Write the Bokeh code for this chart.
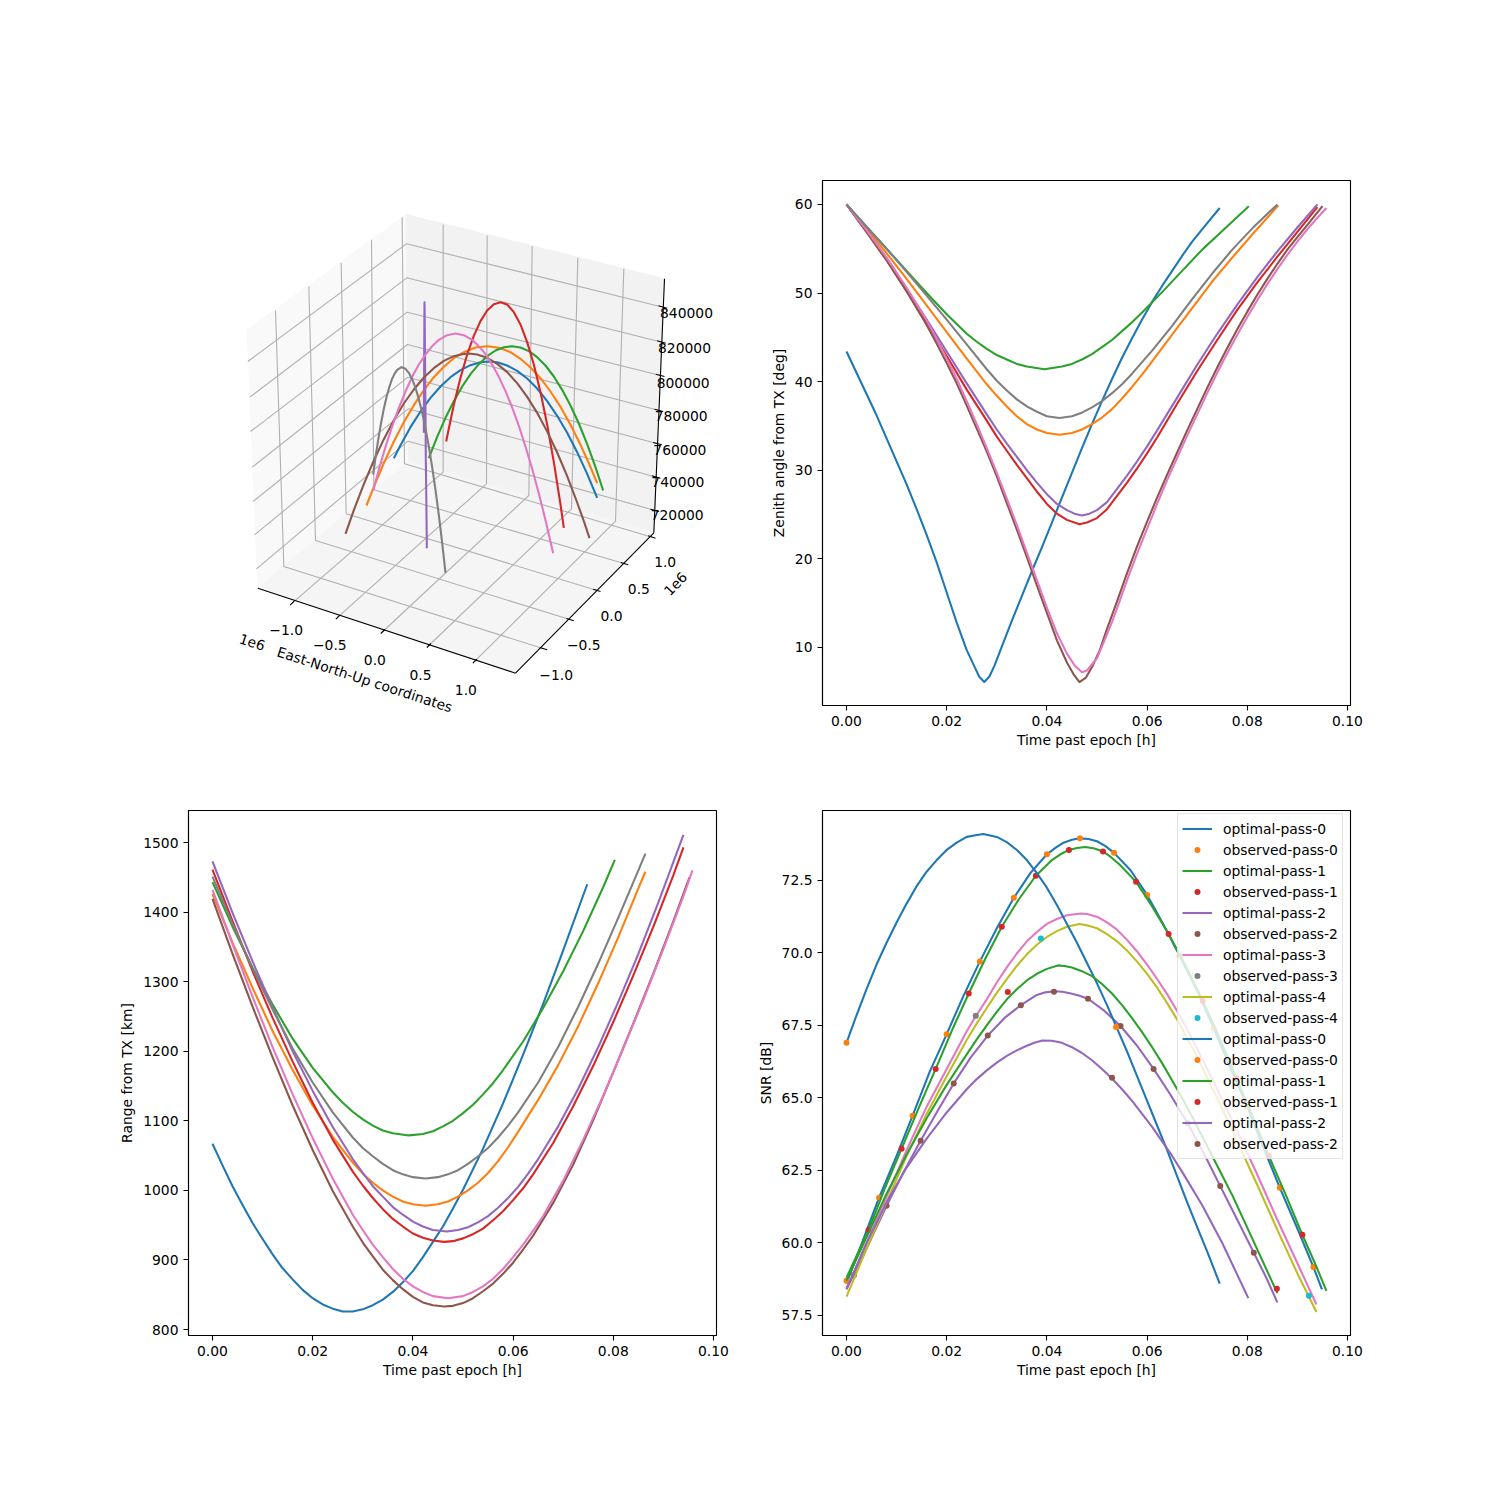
from bokeh.plotting import figure
from bokeh.layouts import column, row
from bokeh.models import Range1d, FixedTicker, NumeralTickFormatter, Legend, LegendItem, Label
from bokeh.embed import file_html
from bokeh.resources import INLINE

BLUE, ORANGE, GREEN, RED, PURPLE, BROWN, PINK, GRAY, OLIVE, CYAN = (
    "#1f77b4", "#ff7f0e", "#2ca02c", "#d62728", "#9467bd",
    "#8c564b", "#e377c2", "#7f7f7f", "#bcbd22", "#17becf")
FONT = "DejaVu Sans"
FS = "13.89px"

# ---- Zenith angle [deg] vs time [h]
zen_blue = [(0,43.4),(.002,41),(.004,38.6),(.006,36.2),(.008,33.6),(.01,31),(.012,28.4),(.014,25.6),(.016,22.7),(.018,19.6),(.02,16.2),(.022,12.8),(.024,9.7),(.0255,7.9),(.0265,6.7),(.0275,6.1),(.0285,6.7),(.0295,7.9),(.031,10.1),(.033,13),(.035,15.8),(.037,18.6),(.039,21.3),(.041,24.1),(.043,26.9),(.045,29.7),(.047,32.5),(.049,35.2),(.051,37.8),(.053,40.3),(.055,42.7),(.057,44.9),(.059,47),(.061,49),(.063,50.8),(.065,52.5),(.067,54.2),(.069,55.8),(.072,57.9),(.0745,59.6)]
zen_orange = [(0,60),(.004,57.3),(.008,54.5),(.012,51.6),(.016,48.6),(.02,45.6),(.024,42.6),(.028,39.7),(.03,38.4),(.032,37.2),(.034,36.1),(.036,35.2),(.038,34.6),(.04,34.2),(.0425,34),(.045,34.2),(.047,34.6),(.049,35.2),(.051,35.95),(.053,36.9),(.055,38.1),(.057,39.4),(.059,40.8),(.061,42.3),(.065,45.3),(.069,48.3),(.073,51.3),(.077,54),(.081,56.6),(.0862,59.9)]
zen_green = [(0,60),(.004,57.5),(.008,55),(.012,52.5),(.016,50),(.02,47.6),(.024,45.4),(.026,44.5),(.028,43.7),(.03,43),(.032,42.5),(.034,42),(.036,41.7),(.0395,41.4),(.043,41.7),(.045,42),(.047,42.5),(.049,43.1),(.051,43.9),(.053,44.7),(.055,45.7),(.057,46.7),(.059,47.8),(.063,50.1),(.067,52.5),(.071,54.9),(.075,57),(.0803,59.8)]
zen_red = [(0,60),(.004,56.9),(.008,53.7),(.012,50.2),(.016,46.6),(.02,42.9),(.024,39.1),(.028,35.6),(.03,33.8),(.032,32.2),(.034,30.6),(.036,29.1),(.038,27.6),(.04,26.2),(.042,25.1),(.044,24.4),(.0465,23.9),(.048,24.1),(.05,24.6),(.052,25.6),(.054,27.1),(.056,28.6),(.058,30.2),(.06,31.9),(.062,33.7),(.066,37.5),(.07,41.2),(.074,44.7),(.078,48.1),(.082,51.2),(.086,54.1),(.09,56.9),(.094,59.7)]
zen_purple = [(0,60),(.004,57),(.008,53.9),(.012,50.5),(.016,47),(.02,43.4),(.024,39.8),(.028,36.3),(.03,34.6),(.032,33),(.034,31.5),(.036,30),(.038,28.6),(.04,27.3),(.042,26.2),(.044,25.5),(.0455,25.1),(.047,24.9),(.0485,25.1),(.05,25.5),(.052,26.4),(.054,27.9),(.056,29.4),(.058,31),(.06,32.7),(.062,34.5),(.066,38.2),(.07,41.9),(.074,45.4),(.078,48.7),(.082,51.8),(.086,54.7),(.09,57.4),(.094,60)]
zen_brown = [(0,60),(.004,56.9),(.008,53.7),(.012,50.2),(.016,46.4),(.018,44.3),(.02,42.1),(.022,39.8),(.024,37.3),(.026,34.7),(.028,32.1),(.03,29.3),(.032,26.3),(.034,23.3),(.036,20.2),(.038,17),(.04,13.9),(.042,10.8),(.044,8.3),(.0453,7),(.0465,6.1),(.0478,6.6),(.049,7.8),(.0505,9.6),(.052,12.1),(.054,15.2),(.056,18.4),(.058,21.4),(.06,24.2),(.062,26.9),(.064,29.5),(.066,32),(.068,34.5),(.07,36.9),(.072,39.3),(.074,41.6),(.076,43.8),(.078,45.9),(.08,47.9),(.082,49.8),(.084,51.6),(.086,53.3),(.088,54.9),(.09,56.3),(.092,57.7),(.095,59.8)]
zen_pink = [(0,60),(.004,57.1),(.008,54),(.012,50.6),(.016,46.9),(.018,44.8),(.02,42.6),(.022,40.3),(.024,37.8),(.026,35.2),(.028,32.5),(.03,29.7),(.032,26.8),(.034,23.8),(.036,20.7),(.038,17.6),(.04,14.5),(.042,11.6),(.044,9.3),(.0455,8),(.047,7.2),(.048,7.4),(.05,8.8),(.0515,10.8),(.053,12.9),(.054,14.4),(.056,17.6),(.058,20.6),(.06,23.4),(.062,26.2),(.064,28.9),(.066,31.4),(.068,33.9),(.07,36.3),(.072,38.7),(.074,41),(.076,43.2),(.078,45.3),(.08,47.3),(.082,49.2),(.084,51),(.086,52.7),(.088,54.3),(.09,55.8),(.092,57.2),(.094,58.5),(.0958,59.6)]
zen_gray = [(0,60),(.004,57.5),(.008,55),(.012,52.4),(.016,49.7),(.02,47),(.024,44.2),(.028,41.4),(.03,40.1),(.032,39),(.034,38),(.036,37.2),(.038,36.6),(.04,36.1),(.0425,35.9),(.045,36.1),(.047,36.5),(.049,37.1),(.051,37.8),(.053,38.7),(.055,39.7),(.057,40.9),(.059,42.2),(.061,43.5),(.065,46.3),(.069,49.3),(.073,52.2),(.077,54.9),(.081,57.3),(.086,60)]

# ---- Range [km] vs time [h]
rng_blue = [(0,1067),(.002,1036),(.004,1006),(.006,979),(.008,953),(.01,930),(.012,908),(.014,888),(.016,872),(.018,857),(.02,845),(.022,836),(.024,830),(.026,826),(.0272,826),(.028,826),(.03,829),(.032,835),(.034,843),(.036,854),(.038,868),(.04,884),(.042,904),(.044,926),(.046,948),(.048,974),(.05,1001),(.054,1060),(.058,1125),(.062,1195),(.066,1268),(.07,1345),(.0748,1440)]
rng_orange = [(0,1426),(.004,1356),(.008,1291),(.012,1229),(.016,1173),(.02,1122),(.024,1077),(.028,1040),(.03,1024),(.032,1011),(.034,1000),(.036,991),(.038,984),(.04,980),(.0425,978),(.045,980),(.047,984),(.049,991),(.051,1000),(.053,1011),(.055,1025),(.057,1042),(.059,1062),(.061,1084),(.065,1130),(.069,1180),(.073,1236),(.077,1298),(.081,1364),(.085,1434),(.0864,1458)]
rng_green = [(0,1443),(.004,1379),(.008,1320),(.012,1267),(.016,1218),(.02,1176),(.024,1141),(.026,1126),(.028,1113),(.03,1102),(.032,1093),(.034,1086),(.036,1082),(.0392,1079),(.042,1081),(.044,1085),(.046,1092),(.048,1100),(.05,1111),(.052,1123),(.054,1138),(.056,1154),(.058,1173),(.062,1214),(.066,1262),(.07,1315),(.074,1373),(.078,1436),(.0803,1475)]
rng_red = [(0,1461),(.004,1387),(.008,1315),(.012,1248),(.016,1185),(.02,1126),(.024,1073),(.028,1027),(.03,1007),(.032,989),(.034,973),(.036,959),(.038,948),(.04,938),(.042,932),(.044,928),(.0462,926),(.048,927),(.05,931),(.052,937),(.054,945),(.056,957),(.058,970),(.06,986),(.062,1003),(.064,1023),(.068,1068),(.072,1121),(.076,1179),(.08,1242),(.084,1309),(.088,1379),(.092,1453),(.094,1493)]
rng_purple = [(0,1473),(.004,1399),(.008,1329),(.012,1263),(.016,1200),(.02,1143),(.024,1091),(.028,1045),(.03,1025),(.032,1006),(.034,991),(.036,976),(.038,965),(.04,955),(.042,948),(.044,943),(.0468,941),(.049,943),(.051,947),(.053,954),(.055,963),(.057,975),(.059,989),(.061,1005),(.063,1024),(.065,1045),(.069,1092),(.073,1146),(.077,1206),(.081,1271),(.085,1340),(.089,1414),(.094,1511)]
rng_brown = [(0,1419),(.004,1340),(.008,1264),(.012,1191),(.016,1122),(.02,1058),(.024,999),(.028,948),(.03,925),(.032,905),(.034,886),(.036,871),(.038,858),(.04,847),(.042,839),(.044,835),(.0462,833),(.048,834),(.05,838),(.052,845),(.054,855),(.056,866),(.058,880),(.06,896),(.062,915),(.064,935),(.068,982),(.072,1037),(.076,1101),(.08,1170),(.084,1240),(.088,1312),(.092,1387),(.0952,1450)]
rng_pink = [(0,1432),(.004,1354),(.008,1278),(.012,1206),(.016,1138),(.02,1075),(.024,1017),(.028,965),(.03,943),(.032,922),(.034,904),(.036,887),(.038,873),(.04,862),(.042,854),(.044,848),(.047,845),(.05,848),(.052,854),(.054,862),(.056,873),(.058,887),(.06,904),(.062,922),(.064,942),(.066,963),(.07,1014),(.074,1073),(.078,1136),(.082,1204),(.086,1274),(.09,1347),(.094,1423),(.0958,1460)]
rng_gray = [(0,1451),(.004,1383),(.008,1319),(.012,1260),(.016,1204),(.02,1155),(.024,1112),(.028,1076),(.03,1061),(.032,1049),(.034,1038),(.036,1029),(.038,1023),(.04,1019),(.0425,1017),(.045,1019),(.047,1023),(.049,1029),(.051,1038),(.053,1049),(.055,1061),(.057,1076),(.059,1093),(.061,1112),(.065,1155),(.069,1206),(.073,1264),(.077,1326),(.081,1392),(.085,1460),(.0864,1484)]

# ---- SNR [dB] vs time [h]
snr_pass0a = [(0,58.6),(.0033,60.1),(.0065,61.56),(.01,63),(.0132,64.39),(.0166,65.9),(.02,67.2),(.0233,68.5),(.0266,69.7),(.03,70.85),(.0334,71.9),(.0367,72.75),(.04,73.4),(.0417,73.62),(.0433,73.8),(.045,73.9),(.0466,73.95),(.0483,73.93),(.05,73.85),(.0517,73.68),(.0534,73.45),(.0567,72.85),(.06,72),(.0632,71),(.0665,69.9),(.07,68.7),(.0733,67.4),(.0766,66.05),(.08,64.7),(.0832,63.3),(.0865,61.9),(.09,60.5),(.0932,59.17),(.0949,58.4)]
obs_pass0a = [(0,58.7),(.0065,61.56),(.0132,64.39),(.02,67.2),(.0266,69.7),(.0334,71.9),(.04,73.4),(.0466,73.95),(.0534,73.45),(.06,72),(.0665,69.9),(.0733,67.4),(.08,64.7),(.0865,61.9),(.0932,59.17)]
snr_pass1a = [(0,58.8),(.0044,60.45),(.0077,61.9),(.011,63.25),(.0144,64.65),(.0178,66),(.0211,67.35),(.0244,68.6),(.0277,69.8),(.031,70.9),(.0344,71.85),(.0378,72.66),(.041,73.2),(.0427,73.4),(.0444,73.55),(.046,73.62),(.0477,73.65),(.0495,73.6),(.0512,73.5),(.0528,73.3),(.0545,73.05),(.0578,72.45),(.061,71.6),(.0643,70.65),(.0677,69.55),(.0711,68.35),(.0745,67.05),(.0778,65.7),(.081,64.4),(.0843,63),(.0877,61.65),(.091,60.28),(.0935,59.3),(.0958,58.35)]
obs_pass1a = [(.0044,60.45),(.011,63.25),(.0178,66),(.0244,68.6),(.031,70.9),(.0378,72.66),(.0444,73.55),(.0512,73.5),(.0578,72.45),(.0643,70.65),(.0711,68.35),(.0778,65.7),(.0843,63),(.091,60.28)]
snr_pass2a = [(0,58.45),(.0015,58.9),(.0048,60.1),(.008,61.28),(.0114,62.45),(.0148,63.52),(.018,64.5),(.0214,65.5),(.0248,66.4),(.0282,67.15),(.0315,67.75),(.0348,68.2),(.038,68.55),(.0397,68.64),(.0414,68.68),(.0431,68.66),(.0448,68.6),(.0465,68.52),(.0482,68.42),(.0515,68),(.0547,67.48),(.058,66.8),(.0613,66),(.0647,65.1),(.0681,64.13),(.0713,63.1),(.0746,61.96),(.078,60.8),(.0813,59.66),(.0838,58.8),(.086,57.95)]
obs_pass2a = [(.0015,58.9),(.008,61.28),(.0148,63.52),(.0214,65.5),(.0282,67.15),(.0348,68.2),(.0414,68.66),(.0482,68.42),(.0547,67.48),(.0613,66),(.0681,64.13),(.0746,61.96),(.0813,59.66)]
snr_pass3 = [(0,58.4),(.004,60),(.008,61.6),(.012,63.2),(.016,64.7),(.02,66),(.024,67.3),(.026,67.87),(.028,68.4),(.03,68.98),(.032,69.5),(.034,69.98),(.036,70.4),(.038,70.72),(.04,71),(.042,71.17),(.044,71.3),(.0468,71.36),(.048,71.34),(.05,71.25),(.052,71.05),(.054,70.8),(.056,70.45),(.058,70.05),(.06,69.6),(.062,69.1),(.064,68.58),(.066,68),(.068,67.37),(.07,66.7),(.074,65.3),(.078,63.85),(.082,62.35),(.086,60.8),(.09,59.3),(.0938,57.88)]
obs_pass3 = [(.0258,67.83)]
snr_pass4 = [(0,58.15),(.004,59.8),(.008,61.4),(.012,63),(.016,64.45),(.02,65.75),(.024,67),(.026,67.57),(.028,68.1),(.03,68.62),(.032,69.1),(.034,69.55),(.036,69.95),(.038,70.28),(.04,70.55),(.042,70.75),(.044,70.9),(.0465,71),(.048,70.95),(.05,70.85),(.052,70.65),(.054,70.4),(.056,70.08),(.058,69.7),(.06,69.28),(.062,68.8),(.064,68.27),(.066,67.7),(.068,67.07),(.07,66.4),(.074,65),(.078,63.5),(.082,62),(.086,60.45),(.09,58.95),(.0938,57.62)]
obs_pass4 = [(.0388,70.5),(.0923,58.18)]
snr_pass0b = [(0,66.9),(.002,67.85),(.004,68.75),(.006,69.6),(.008,70.35),(.01,71.05),(.012,71.7),(.014,72.3),(.016,72.8),(.018,73.2),(.02,73.55),(.022,73.8),(.024,74),(.0255,74.05),(.0273,74.1),(.03,74),(.032,73.82),(.034,73.55),(.036,73.2),(.038,72.75),(.04,72.25),(.042,71.65),(.044,71),(.046,70.35),(.048,69.65),(.05,68.95),(.052,68.2),(.054,67.4),(.056,66.6),(.058,65.75),(.06,64.9),(.062,64.05),(.064,63.2),(.066,62.3),(.068,61.4),(.07,60.55),(.072,59.7),(.0745,58.6)]
obs_pass0b = [(0,66.9),(.0538,67.45)]
snr_pass1b = [(0,58.7),(.004,60.2),(.008,61.7),(.012,63.05),(.016,64.3),(.02,65.45),(.024,66.5),(.026,67.02),(.028,67.5),(.03,67.97),(.032,68.4),(.034,68.75),(.036,69.05),(.038,69.28),(.04,69.45),(.0422,69.57),(.0435,69.55),(.045,69.5),(.047,69.37),(.049,69.2),(.051,68.93),(.053,68.6),(.055,68.2),(.057,67.75),(.059,67.27),(.061,66.75),(.063,66.2),(.065,65.6),(.067,65),(.069,64.35),(.073,63),(.077,61.65),(.081,60.15),(.086,58.27)]
obs_pass1b = [(.0322,68.65),(.0859,58.42)]
snr_pass2b = [(0,58.4),(.004,60),(.008,61.4),(.012,62.6),(.016,63.6),(.02,64.5),(.024,65.3),(.026,65.65),(.028,65.95),(.03,66.22),(.032,66.45),(.034,66.64),(.036,66.8),(.0375,66.9),(.0391,66.98),(.041,66.97),(.043,66.9),(.045,66.75),(.047,66.55),(.049,66.3),(.051,66),(.053,65.67),(.055,65.3),(.057,64.9),(.059,64.45),(.061,64),(.063,63.5),(.065,63),(.067,62.45),(.071,61.3),(.075,60),(.0802,58.1)]
obs_pass2b = [(.053,65.7)]
snr_labels = ["optimal-pass-0","observed-pass-0","optimal-pass-1","observed-pass-1","optimal-pass-2","observed-pass-2","optimal-pass-3","observed-pass-3","optimal-pass-4","observed-pass-4","optimal-pass-0","observed-pass-0","optimal-pass-1","observed-pass-1","optimal-pass-2","observed-pass-2"]

# ---- 3D panel: curves as projected on the page plane (panel units)
enu_blue = [(490,773),(510,734),(540,680),(570,633),(600,592),(630,558),(660,530),(690,509),(720,494),(750,485),(775,483),(800,485),(830,495),(860,511),(890,534),(920,564),(950,602),(980,646),(1010,697),(1040,755),(1070,820),(1100,892)]
enu_orange = [(408,915),(430,859),(460,788),(490,723),(520,665),(550,614),(580,569),(610,530),(640,499),(670,473),(700,455),(735,441),(770,437),(805,442),(840,455),(870,475),(900,501),(930,533),(960,573),(990,619),(1020,673),(1050,733),(1075,788),(1100,848)]
enu_green = [(595,773),(620,709),(645,652),(670,602),(695,558),(720,521),(745,491),(770,467),(795,450),(820,440),(845,437),(870,441),(895,452),(920,470),(945,495),(970,528),(995,568),(1020,615),(1045,669),(1070,731),(1095,800),(1118,870)]
enu_red = [(647,723),(650,708),(670,613),(690,532),(710,462),(730,406),(750,362),(770,330),(790,311),(810,305),(830,312),(850,335),(870,372),(890,425),(910,492),(930,575),(950,672),(970,785),(990,912),(1000,982)]
enu_purple = [(580,697),(580.5,600),(581,480),(581.5,380),(582,305),(582.5,340),(583.5,470),(585,640),(586,780),(587.5,900),(589,1043)]
enu_brown = [(345,1000),(370,929),(400,851),(430,780),(460,716),(490,659),(520,609),(550,567),(580,531),(610,503),(640,481),(670,467),(695,461),(715,459),(740,462),(770,472),(800,490),(830,515),(860,548),(890,589),(920,637),(950,693),(980,756),(1010,827),(1040,906),(1060,962),(1077,1013)]
enu_pink = [(428,870),(445,807),(465,739),(485,678),(505,622),(525,573),(545,529),(565,492),(585,462),(605,437),(625,418),(650,404),(675,399),(700,404),(725,418),(745,437),(765,461),(785,492),(805,529),(825,572),(845,621),(865,676),(885,738),(905,805),(925,879),(945,959),(968,1058)]
enu_gray = [(428,822),(436,764),(444,712),(452,666),(460,625),(468,590),(476,561),(484,537),(492,520),(500,508),(513,500),(525,505),(535,517),(545,536),(555,562),(565,596),(575,636),(585,684),(595,738),(605,800),(615,868),(625,944),(635,1027),(645,1117)]

pane_left = [(50,388),(527,42),(535,782),(82,1163)]
pane_right = [(527,42),(1302,235),(1270,997),(535,782)]
pane_floor = [(82,1163),(535,782),(1270,997),(855,1418)]
x_front = [(185,1208),(322,1250),(457,1293),(595,1335),(733,1382)]
x_back = [(638,815),(768,850),(895,885),(1023,925),(1155,962)]
x_top = [(638,72),(770,105),(905,137),(1042,172),(1180,205)]
y_front = [(940,1345),(1020,1258),(1100,1170),(1183,1090),(1265,1010)]
y_back = [(160,1098),(255,1020),(347,940),(430,868),(522,790)]
y_top = [(135,330),(235,257),(332,187),(423,118),(515,50)]
z_left = [(78,1105),(72,1003),(68,903),(65,800),(60,693),(58,590),(52,483)]
z_back = [(533,722),(533,625),(532,530),(531,432),(530,335),(529,232),(528,130)]
z_right = [(1274,930),(1278,830),(1282,730),(1286,630),(1290,525),(1294,425),(1298,320)]
z_labels = ["720000","740000","760000","780000","800000","820000","840000"]
z_label_pos = [(1340,942),(1342,845),(1348,748),(1352,645),(1358,547),(1362,442),(1368,337)]
x_labels = ["\u22121.0","\u22120.5","0.0","0.5","1.0"]
x_label_pos = [(167,1287),(298,1332),(433,1378),(570,1423),(706,1468)]
y_label_pos = [(977,1422),(1060,1332),(1143,1245),(1225,1165),(1304,1083)]

# ---------------- 3D panel
p3 = figure(width=750, height=760, output_backend="svg", toolbar_location=None,
            x_range=Range1d(-690, 1560), y_range=Range1d(1680, -600),
            min_border=0, outline_line_color=None)
p3.axis.visible = False
p3.grid.visible = False
for pane, col in ((pane_left, "#f9f9f9"), (pane_right, "#f2f2f2"), (pane_floor, "#f5f5f5")):
    p3.patch([a for a, _ in pane], [b for _, b in pane], fill_color=col, line_color=col, line_width=1)
GRID = "#b0b0b0"
def seg3(points, color=GRID, w=1.1):
    p3.line([a for a, _ in points], [b for _, b in points], line_color=color, line_width=w)
for a, b, c in zip(x_front, x_back, x_top):
    seg3([a, b, c])
for a, b, c in zip(y_front, y_back, y_top):
    seg3([a, b, c])
for a, b, c in zip(z_left, z_back, z_right):
    seg3([a, b, c])
seg3([pane_floor[0], pane_floor[3]], "black")
seg3([pane_floor[3], pane_floor[2]], "black")
seg3([pane_floor[2], pane_right[1]], "black")
for (a, b) in x_front:
    seg3([(a - 6, b + 6), (a + 6, b - 6)], "black")
for (a, b) in y_front:
    seg3([(a + 10, b + 3), (a - 12, b - 4)], "black")
for (a, b) in z_right:
    seg3([(a - 14, b - 4), (a + 12, b + 3)], "black")
for col, pts in ((BLUE, enu_blue), (ORANGE, enu_orange), (GREEN, enu_green), (RED, enu_red),
                 (PURPLE, enu_purple), (BROWN, enu_brown), (PINK, enu_pink), (GRAY, enu_gray)):
    p3.line([a for a, _ in pts], [b for _, b in pts], line_color=col, line_width=2.08, line_join="round")
def lab(labels, pos, angle=0.0):
    for t, (a, b) in zip(labels, pos):
        p3.add_layout(Label(x=a, y=b, text=t, text_font=FONT, text_font_size=FS, text_color="black",
                            text_align="center", text_baseline="middle", angle=angle, angle_units="deg"))
lab(z_labels, z_label_pos)
lab(x_labels, x_label_pos)
lab(x_labels, y_label_pos)
lab(["1e6"], [(65, 1325)], angle=-18)
lab(["1e6"], [(1335, 1150)], angle=46)
lab(["East-North-Up coordinates"], [(403, 1437)], angle=-18)

# ---------------- 2D panels
TX = [0, .02, .04, .06, .08, .1]
def make(ymin, ymax, yticks, yfmt, ylabel, top, bottom, left, right):
    p = figure(width=left + 528 + right, height=top + 525 + bottom,
               output_backend="svg", toolbar_location=None,
               x_range=Range1d(-.00479, .1006), y_range=Range1d(ymin, ymax),
               min_border_left=left, min_border_right=right, min_border_top=top, min_border_bottom=bottom,
               outline_line_color="black", outline_line_width=1.1, outline_line_alpha=1)
    p.grid.visible = False
    p.xaxis.ticker = FixedTicker(ticks=TX)
    p.yaxis.ticker = FixedTicker(ticks=yticks)
    p.xaxis.formatter = NumeralTickFormatter(format="0.00")
    p.yaxis.formatter = NumeralTickFormatter(format=yfmt)
    p.xaxis.axis_label = "Time past epoch [h]"
    p.yaxis.axis_label = ylabel
    for ax in (p.xaxis[0], p.yaxis[0]):
        ax.axis_label_text_font = FONT
        ax.axis_label_text_font_size = FS
        ax.axis_label_text_font_style = "normal"
        ax.axis_label_text_color = "black"
        ax.major_label_text_font = FONT
        ax.major_label_text_font_size = FS
        ax.major_label_text_color = "black"
        ax.major_tick_line_color = "black"
        ax.major_tick_line_width = 1.1
        ax.major_tick_in = 0
        ax.major_tick_out = 5
        ax.minor_tick_line_color = None
        ax.axis_line_color = "black"
        ax.axis_line_width = 1.1
        ax.major_label_standoff = 5
        ax.axis_label_standoff = 5
    p.xaxis[0].axis_label_standoff = 3
    return p

def draw(p, pts, col):
    return p.line([a for a, _ in pts], [b for _, b in pts], line_color=col, line_width=2.08, line_join="round")
def dots(p, pts, col):
    return p.scatter([a for a, _ in pts], [b for _, b in pts], size=6, fill_color=col, line_color=None)

pz = make(3.45, 62.7, [10, 20, 30, 40, 50, 60], "0", "Zenith angle from TX [deg]", 180, 55, 72, 142)
for pts, col in ((zen_blue, BLUE), (zen_orange, ORANGE), (zen_green, GREEN), (zen_red, RED),
                 (zen_purple, PURPLE), (zen_brown, BROWN), (zen_pink, PINK), (zen_gray, GRAY)):
    draw(pz, pts, col)

pr = make(791.4, 1546, [800, 900, 1000, 1100, 1200, 1300, 1400, 1500], "0", "Range from TX [km]", 50, 157, 188, 34)
for pts, col in ((rng_blue, BLUE), (rng_orange, ORANGE), (rng_green, GREEN), (rng_red, RED),
                 (rng_purple, PURPLE), (rng_brown, BROWN), (rng_pink, PINK), (rng_gray, GRAY)):
    draw(pr, pts, col)

ps = make(56.81, 74.91, [57.5, 60, 62.5, 65, 67.5, 70, 72.5], "0.0", "SNR [dB]", 50, 157, 72, 142)
rs = [draw(ps, snr_pass0a, BLUE), dots(ps, obs_pass0a, ORANGE),
      draw(ps, snr_pass1a, GREEN), dots(ps, obs_pass1a, RED),
      draw(ps, snr_pass2a, PURPLE), dots(ps, obs_pass2a, BROWN),
      draw(ps, snr_pass3, PINK), dots(ps, obs_pass3, GRAY),
      draw(ps, snr_pass4, OLIVE), dots(ps, obs_pass4, CYAN),
      draw(ps, snr_pass0b, BLUE), dots(ps, obs_pass0b, ORANGE),
      draw(ps, snr_pass1b, GREEN), dots(ps, obs_pass1b, RED),
      draw(ps, snr_pass2b, PURPLE), dots(ps, obs_pass2b, BROWN)]
leg = Legend(items=[LegendItem(label=l, renderers=[r]) for l, r in zip(snr_labels, rs)],
             location=(355, 176), margin=0, padding=4, spacing=0,
             glyph_width=30, glyph_height=15, label_height=21, label_standoff=11,
             label_text_font=FONT, label_text_font_size=FS, label_text_color="black",
             background_fill_color="white", background_fill_alpha=0.8,
             border_line_color="#cccccc", border_line_width=1.1)
ps.add_layout(leg)

page = column(row(column(p3), column(pz), spacing=0), row(column(pr), column(ps), spacing=0), spacing=0)
open("out.html", "w").write(file_html(page, INLINE))
